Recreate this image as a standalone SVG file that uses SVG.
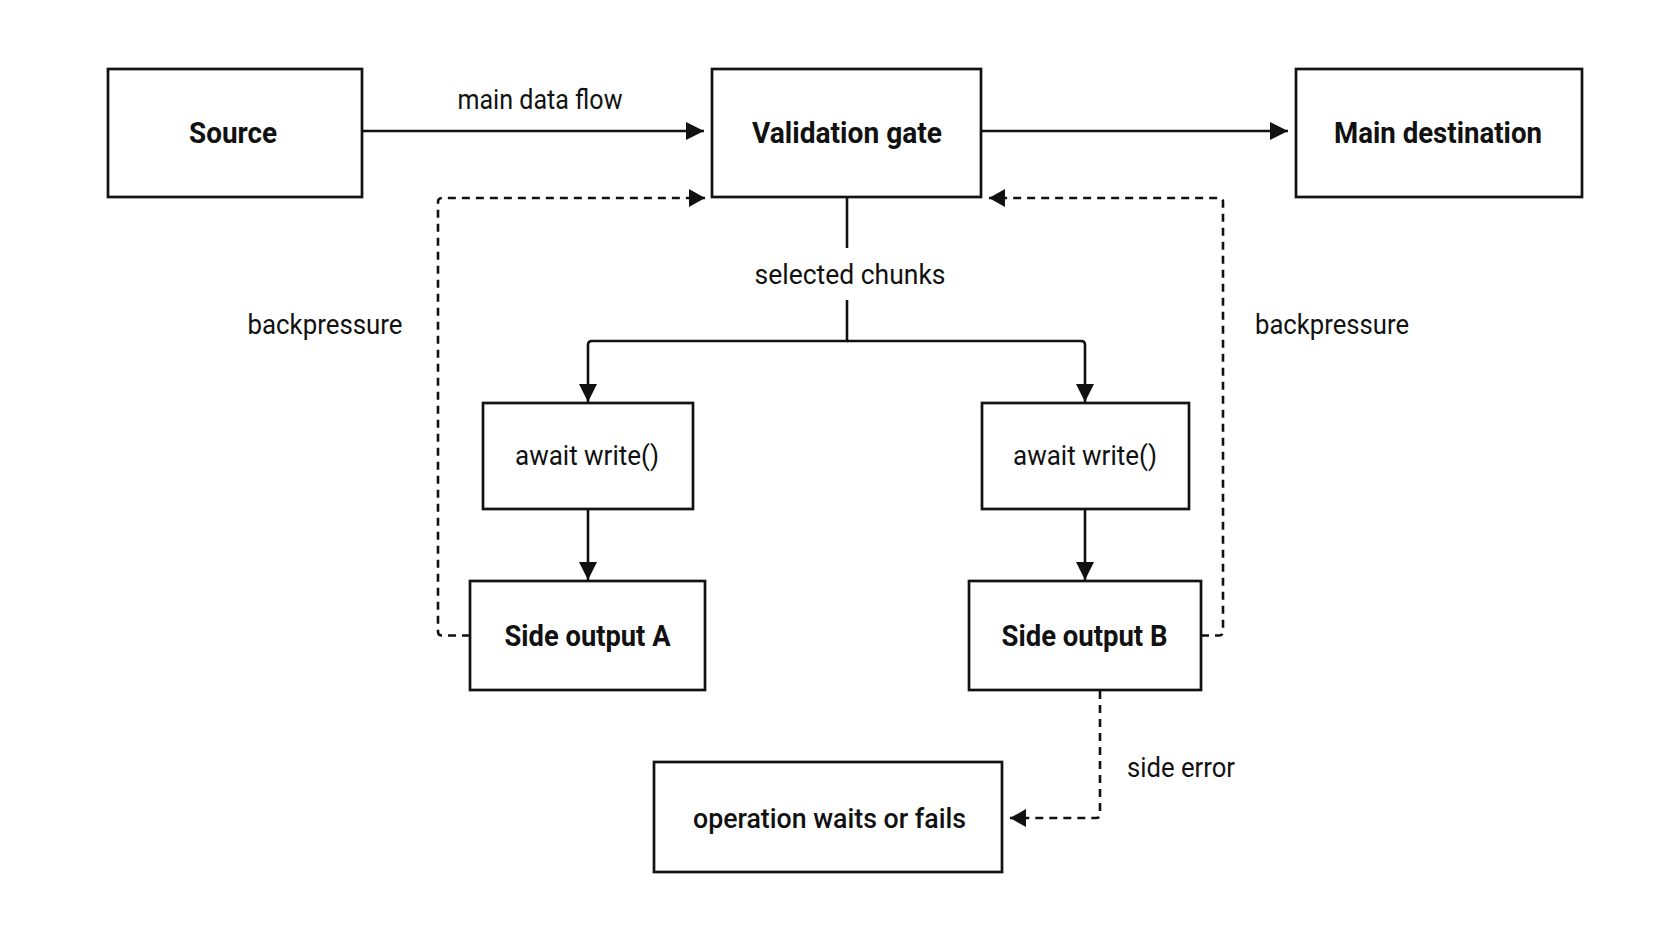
<svg xmlns="http://www.w3.org/2000/svg" width="1672" height="941" viewBox="0 0 1672 941">
<defs>
<style>
.box{fill:#fff;stroke:#111;stroke-width:2.7}
.t{font-family:Roboto,"Liberation Sans",sans-serif;fill:#111;text-anchor:middle}
.b{font-weight:700;font-size:30px}
.m{font-weight:500;font-size:28px}
.r{font-weight:400;font-size:27px}
.c{fill:none;stroke:#111;stroke-width:2.6}
.d{stroke-dasharray:8 6}
</style>
<marker id="ah" markerUnits="userSpaceOnUse" markerWidth="18" markerHeight="18" refX="18" refY="9" orient="auto"><path d="M0,0 L18,9 L0,18 z" fill="#111"/></marker>
<marker id="ahd" markerUnits="userSpaceOnUse" markerWidth="16" markerHeight="18" refX="16" refY="9" orient="auto"><path d="M0,0 L16,9 L0,18 z" fill="#111"/></marker>
</defs>
<rect width="1672" height="941" fill="#fff"/>
<g id="connectors">
<path class="c" d="M362,131 H704" marker-end="url(#ah)"/>
<path class="c" d="M981,131 H1288" marker-end="url(#ah)"/>
<path class="c" d="M847,197 V248"/>
<path class="c" d="M847,300 V341 H592 Q588,341 588,345 V402" marker-end="url(#ah)"/>
<path class="c" d="M847,341 H1081 Q1085,341 1085,345 V402" marker-end="url(#ah)"/>
<path class="c" d="M588,509 V580" marker-end="url(#ah)"/>
<path class="c" d="M1085,509 V580" marker-end="url(#ah)"/>
<path class="c d" d="M470,635.5 H442 Q438,635.5 438,631.5 V202 Q438,198 442,198 H705" marker-end="url(#ahd)"/>
<path class="c d" d="M1201,635.5 H1219 Q1223,635.5 1223,631.5 V202 Q1223,198 1219,198 H989" marker-end="url(#ahd)"/>
<path class="c d" d="M1100,691 V814 Q1100,818 1096,818 H1010" marker-end="url(#ahd)"/>
<text class="t r" x="540" y="109" textLength="165" lengthAdjust="spacingAndGlyphs">main data flow</text>
<text class="t r" x="850" y="284" textLength="191" lengthAdjust="spacingAndGlyphs">selected chunks</text>
<text class="t r" x="325" y="334" textLength="155" lengthAdjust="spacingAndGlyphs">backpressure</text>
<text class="t r" x="1332" y="334" textLength="154" lengthAdjust="spacingAndGlyphs">backpressure</text>
<text class="t r" x="1181" y="777" textLength="108" lengthAdjust="spacingAndGlyphs">side error</text>
</g>
<g id="source">
<rect class="box" x="108" y="69" width="254" height="128"/>
<text class="t b" x="233" y="143" textLength="88" lengthAdjust="spacingAndGlyphs">Source</text>
</g>
<g id="validation">
<rect class="box" x="712" y="69" width="269" height="128"/>
<text class="t b" x="847" y="143" textLength="190" lengthAdjust="spacingAndGlyphs">Validation gate</text>
</g>
<g id="main-destination">
<rect class="box" x="1296" y="69" width="286" height="128"/>
<text class="t b" x="1438" y="143" textLength="208" lengthAdjust="spacingAndGlyphs">Main destination</text>
</g>
<g id="await-a">
<rect class="box" x="483" y="403" width="210" height="106"/>
<text class="t r" x="587" y="465" textLength="144" lengthAdjust="spacingAndGlyphs">await write()</text>
</g>
<g id="await-b">
<rect class="box" x="982" y="403" width="207" height="106"/>
<text class="t r" x="1085" y="465" textLength="144" lengthAdjust="spacingAndGlyphs">await write()</text>
</g>
<g id="side-a">
<rect class="box" x="470" y="581" width="235" height="109"/>
<text class="t b" x="587.5" y="646" textLength="166" lengthAdjust="spacingAndGlyphs">Side output A</text>
</g>
<g id="side-b">
<rect class="box" x="969" y="581" width="232" height="109"/>
<text class="t b" x="1084.5" y="646" textLength="166" lengthAdjust="spacingAndGlyphs">Side output B</text>
</g>
<g id="operation">
<rect class="box" x="654" y="762" width="348" height="110"/>
<text class="t m" x="829.5" y="828" textLength="273" lengthAdjust="spacingAndGlyphs">operation waits or fails</text>
</g>
</svg>
